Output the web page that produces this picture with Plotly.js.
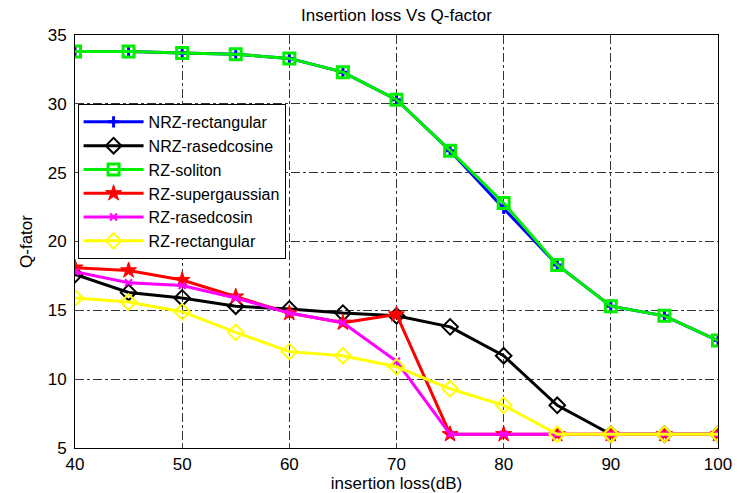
<!DOCTYPE html>
<html><head><meta charset="utf-8">
<script src="https://cdn.plot.ly/plotly-3.0.1.min.js"></script>
<style>body{margin:0;background:#fff}#c{width:748px;height:493px}</style>
</head><body><div id="c"></div>
<script>
const insertionLoss = [40,45,50,55,60,65,70,75,80,85,90,95,100];
const nrzRectangular = [33.8,33.8,33.7,33.6,33.3,32.3,30.3,26.6,22.4,18.3,15.3,14.6,12.8];
const nrzRasedcosine = [17.6,16.3,15.9,15.3,15.1,14.8,14.6,13.8,11.7,8.1,6,6,6];
const rzSoliton = [33.8,33.8,33.7,33.6,33.3,32.3,30.3,26.6,22.8,18.3,15.3,14.6,12.8];
const rzSupergaussian = [18.1,17.9,17.2,16.0,14.8,14.1,14.7,6,6,6,6,6,6];
const rzRasedcosin = [17.8,17.0,16.8,15.9,14.8,14.1,11.3,6,6,6,6,6,6];
const rzRectangular = [15.9,15.6,14.9,13.4,12.0,11.7,10.9,9.3,8.1,6,6,6,6];

function tr(name, y, color, symbol, size, lw){
  return {x: insertionLoss, y: y, name: name, type:'scatter', mode:'lines+markers',
    line:{color:color, width:3},
    marker:{symbol:symbol, size:size, color:color, line:{color:color, width:lw}}};
}
const data = [
  tr('NRZ-rectangular', nrzRectangular, '#0000ff', 'cross-thin', 8, 3),
  tr('NRZ-rasedcosine', nrzRasedcosine, '#000000', 'diamond-open', 12, 2),
  tr('RZ-soliton', rzSoliton, '#00ee00', 'square-open', 11, 3),
  tr('RZ-supergaussian', rzSupergaussian, '#ff0000', 'star', 12, 1),
  tr('RZ-rasedcosin', rzRasedcosin, '#ff00ff', 'x-thin', 7, 2),
  tr('RZ-rectangular', rzRectangular, '#ffff00', 'diamond-open', 12, 2)
];
const fam = 'Liberation Sans, Arial, sans-serif';
const layout = {
  width:748, height:493,
  margin:{l:75, r:30, t:35, b:45},
  paper_bgcolor:'#fff', plot_bgcolor:'#fff',
  font: {family:fam, size:17, color:'#000'},
  title:{text:'Insertion loss Vs Q-factor', xref:'paper', x:0.5, xanchor:'center', y:0.97, yanchor:'middle', font:{family:fam, size:17}},
  xaxis:{range:[40,100], dtick:10, showgrid:true, gridcolor:'#333', griddash:'dashdot', gridwidth:1,
    showline:true, mirror:true, linecolor:'#000', linewidth:1, ticks:'inside', ticklen:5, zeroline:false,
    ticklabelstandoff:1,
    tickfont:{family:fam, size:17},
    title:{text:'insertion loss(dB)', standoff:2, font:{family:fam, size:17}}},
  yaxis:{range:[5,35], dtick:5, showgrid:true, gridcolor:'#333', griddash:'dashdot', gridwidth:1,
    showline:true, mirror:true, linecolor:'#000', linewidth:1, ticks:'inside', ticklen:5, zeroline:false,
    ticklabelstandoff:4,
    tickfont:{family:fam, size:17},
    title:{text:'Q-fator', standoff:10, font:{family:fam, size:17}}},
  showlegend:true,
  legend:{x:0.004, y:0.833, xanchor:'left', yanchor:'top', bgcolor:'#fff', bordercolor:'#000', borderwidth:1,
    font:{family:fam, size:16}, itemwidth:60, tracegroupgap:0}
};
Plotly.newPlot('c', data, layout, {displayModeBar:false, staticPlot:true});
</script></body></html>
